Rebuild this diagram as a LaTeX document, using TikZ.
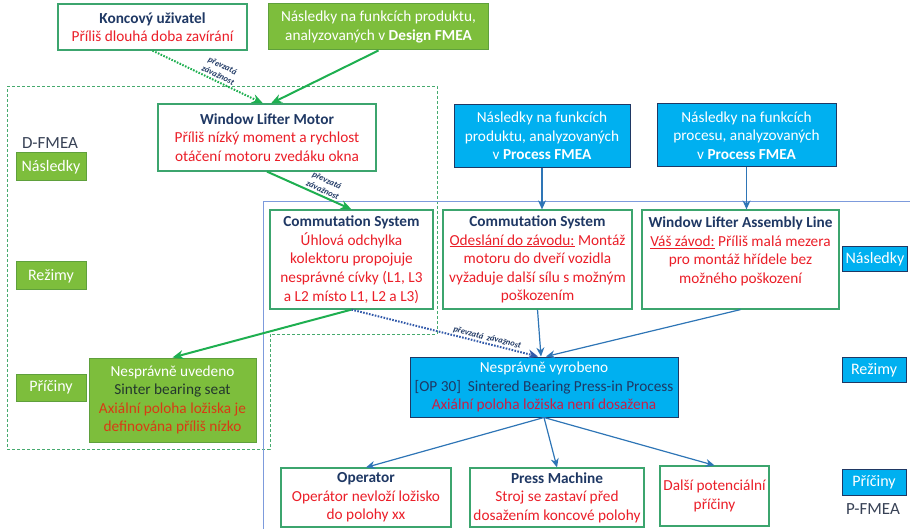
\documentclass[tikz,border=0pt]{standalone}
\usepackage{fontspec}
\setmainfont{Carlito}
\usetikzlibrary{arrows.meta}
\definecolor{gfill}{RGB}{125,190,60}
\definecolor{gborder}{RGB}{95,160,60}
\definecolor{wborder}{RGB}{60,165,110}
\definecolor{garrow}{RGB}{30,175,80}
\definecolor{bfill}{RGB}{0,176,240}
\definecolor{bborder}{RGB}{31,56,100}
\definecolor{barrow}{RGB}{46,117,182}
\definecolor{bdotc}{RGB}{50,90,170}
\definecolor{navy}{RGB}{31,56,100}
\definecolor{tred}{RGB}{235,30,40}
\definecolor{ored}{RGB}{215,60,20}
\definecolor{crim}{RGB}{200,30,70}
\definecolor{pline}{RGB}{125,155,220}
\definecolor{dline}{RGB}{70,170,110}
\definecolor{darkt}{RGB}{35,55,45}
\definecolor{lab}{RGB}{55,65,85}
\begin{document}
\begin{tikzpicture}[x=1pt,y=-1pt,
  every node/.style={font=\fontsize{15.3}{18.6}\selectfont},
  wbox/.style={draw=wborder, line width=1.2pt, fill=white, align=center, inner sep=1pt},
  gbox/.style={draw=gborder, line width=1pt, fill=gfill, text=white, align=center, inner sep=1pt},
  bbox/.style={draw=bborder, line width=1pt, fill=bfill, text=white, align=center, inner sep=1pt},
  tag/.style={minimum width=#1, font=\fontsize{16}{18}\selectfont, inner sep=1pt},
  garr/.style={draw=garrow, line width=2pt, -{Stealth[length=11pt,width=9pt]}},
  gdot/.style={draw=garrow, line width=2pt, dash pattern=on 1.6pt off 1.4pt, -{Stealth[length=11pt,width=9pt]}},
  barr/.style={draw=barrow, line width=1.2pt, -{Stealth[length=9pt,width=8pt]}},
  bdot/.style={draw=bdotc, line width=2pt, dash pattern=on 1.6pt off 1.4pt, -{Stealth[length=10pt,width=9pt]}},
  arrlab/.style={font=\fontsize{8.5}{10.5}\selectfont\bfseries\itshape, text=navy, sloped, align=center, inner sep=1pt}]
\useasboundingbox (0,0) rectangle (910,529);

% regions
\draw[dline, line width=0.8pt, dash pattern=on 3pt off 2pt]
  (7,86) -- (437,86) -- (437,334) -- (270,334) -- (270,449) -- (7,449) -- cycle;
\draw[pline, line width=0.8pt] (910,201) -- (263,201) -- (263,529);

% top row
\node[wbox, minimum width=189pt, minimum height=46pt] (kon) at (152.5,27)
  {{\bfseries\color{navy}Koncový uživatel}\\ {\color{tred}Příliš dlouhá doba zavírání}};
\node[gbox, minimum width=220pt, minimum height=46pt] (dfm) at (378.5,27)
  {Následky na funkcích produktu,\\ analyzovaných v \textbf{Design FMEA}};

% D-FMEA
\node[wbox, minimum width=218pt, minimum height=67pt] (wlm) at (267,137.5)
  {{\bfseries\color{navy}Window Lifter Motor}\\ {\color{tred}Příliš nízký moment a rychlost}\\ {\color{tred}otáčení motoru zvedáku okna}};
\node[text=lab, font=\fontsize{17}{19}\selectfont, inner sep=0pt] (dlab) at (50,143) {D-FMEA};
\node[gbox, tag=70pt, minimum height=28pt] (dnas) at (51,167) {Následky};
\node[gbox, tag=70pt, minimum height=28pt] (drez) at (51,276) {Režimy};
\node[gbox, tag=70pt, minimum height=27pt] (dpri) at (51,387.5) {Příčiny};
\node[gbox, minimum width=167pt, minimum height=84pt] (nu) at (172.5,400)
  {{\color{white}Nesprávně uvedeno}\\ {\color{darkt}Sinter bearing seat}\\ {\color{ored}Axiální poloha ložiska je}\\ {\color{ored}definována příliš nízko}};

% P-FMEA top blue boxes
\node[bbox, minimum width=176pt, minimum height=63pt] (pb1) at (542,136)
  {Následky na funkcích\\ produktu, analyzovaných\\ v \textbf{Process FMEA}};
\node[bbox, minimum width=179pt, minimum height=63pt] (pb2) at (746.5,135.5)
  {Následky na funkcích\\ procesu, analyzovaných\\ v \textbf{Process FMEA}};

% second row
\node[wbox, minimum width=163pt, minimum height=99pt] (cs1) at (351.5,259.5)
  {{\bfseries\color{navy}Commutation System}\\ {\color{tred}Úhlová odchylka}\\ {\color{tred}kolektoru propojuje}\\ {\color{tred}nesprávné cívky (L1, L3}\\ {\color{tred}a L2 místo L1, L2 a L3)}};
\node[wbox, minimum width=189pt, minimum height=99pt] (cs2) at (537.5,259.5)
  {{\bfseries\color{navy}Commutation System}\\ {\color{tred}\underline{Odeslání do závodu:} Montáž}\\ {\color{tred}motoru do dveří vozidla}\\ {\color{tred}vyžaduje další sílu s možným}\\ {\color{tred}poškozením}};
\node[wbox, minimum width=197pt, minimum height=99pt] (wlal) at (740.5,259.5)
  {{\bfseries\color{navy}Window Lifter Assembly Line}\\ {\color{tred}\underline{Váš závod:} Příliš malá mezera}\\ {\color{tred}pro montáž hřídele bez}\\ {\color{tred}možného poškození}\\ \mbox{}};
\node[bbox, tag=65pt, minimum height=25pt] (pnas) at (875,259) {Následky};

% middle
\node[bbox, minimum width=268pt, minimum height=60pt] (nv) at (544,387)
  {{\color{white}Nesprávně vyrobeno}\\ {\color{navy}[OP 30]\ \ Sintered Bearing Press-in Process}\\ {\color{crim}Axiální poloha ložiska není dosažena}};
\node[bbox, tag=64pt, minimum height=25pt] (prez) at (874,370) {Režimy};

% bottom row
\node[wbox, minimum width=170pt, minimum height=59pt] (op) at (366,497.5)
  {{\bfseries\color{navy}Operator}\\ {\color{tred}Operátor nevloží ložisko}\\ {\color{tred}do polohy xx}};
\node[wbox, minimum width=174pt, minimum height=59pt] (pm) at (557,497.5)
  {{\bfseries\color{navy}Press Machine}\\ {\color{tred}Stroj se zastaví před}\\ {\color{tred}dosažením koncové polohy}};
\node[wbox, minimum width=109pt, minimum height=60pt] (dal) at (714.5,496)
  {{\color{tred}Další potenciální}\\ {\color{tred}příčiny}};
\node[bbox, tag=64pt, minimum height=26pt] (ppri) at (874,482) {Příčiny};
\node[text=lab, font=\fontsize{17}{19}\selectfont, inner sep=0pt] (plab) at (873,509) {P-FMEA};

% connectors
\draw[gdot] (kon.south) -- ([xshift=-4pt]wlm.north)
  node[arrlab, pos=0.57, above=1pt] {převzatá\\ závažnost};
\draw[garr] (dfm.south) -- ([xshift=4pt]wlm.north);
\draw[garr] (wlm.south) -- (cs1.north)
  node[arrlab, pos=0.63, above=1pt] {převzatá\\ závažnost};
\draw[garr] (cs1.south) -- (nu.north);
\draw[bdot] (cs1.south) -- ([xshift=-6pt]nv.north)
  node[arrlab, pos=0.72, above=0pt] {převzatá\ \ závažnost};
\draw[barr] (pb1.south) -- (pb1.south |- cs2.north);
\draw[barr] (pb2.south) -- (pb2.south |- wlal.north);
\draw[barr] (cs2.south) -- ([xshift=-3pt]nv.north);
\draw[barr] (wlal.south) -- ([xshift=2pt]nv.north);
\draw[barr] (nv.south) -- (op.north);
\draw[barr] (nv.south) -- (pm.north);
\draw[barr] (nv.south) -- (dal.north);
\end{tikzpicture}
\end{document}
